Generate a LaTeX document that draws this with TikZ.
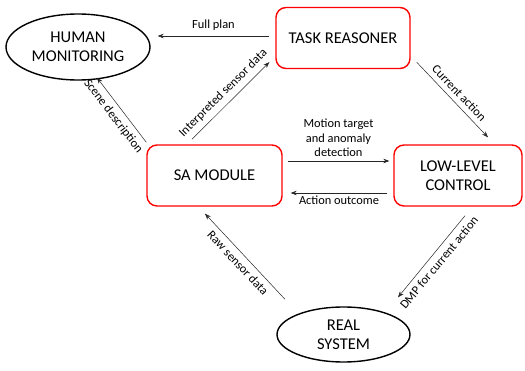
\documentclass[tikz,border=0pt]{standalone}
\usepackage{fontspec}
\setmainfont{Carlito}
\usetikzlibrary{shapes.geometric,arrows.meta}
\begin{document}
\begin{tikzpicture}[x=1pt,y=1pt,
  redbox/.style={draw=red,line width=1.4pt,rounded corners=10pt,fill=white,font=\fontsize{16.5}{19}\selectfont,align=center,inner sep=0pt},
  oval/.style={draw=black,line width=1.4pt,ellipse,font=\fontsize{16.5}{19}\selectfont,align=center,inner sep=0pt},
  arr/.style={-{Stealth[length=6pt,width=4.5pt]},line width=0.5pt,draw=black!85},
  lab/.style={font=\fontsize{12.4}{14.5}\selectfont,align=center,inner sep=3pt},
  slab/.style={lab,sloped,inner sep=5pt}]
\useasboundingbox (0,0) rectangle (525,370);
\node[oval,minimum width=144,minimum height=66] (HM) at (78,323) {HUMAN\\MONITORING};
\node[redbox,minimum width=134,minimum height=61] (TR) at (343,332) {TASK REASONER};
\node[redbox,minimum width=135,minimum height=61] (SA) at (214.5,194.5) {SA MODULE};
\node[redbox,minimum width=128,minimum height=61] (LLC) at (458,194.5) {LOW-LEVEL\\CONTROL};
\node[oval,minimum width=133,minimum height=55] (RS) at (343.5,35.5) {REAL\\SYSTEM};

\draw[arr] ([shift={(-6,2)}]TR.west) -- node[lab,above=2pt] {Full plan} ([shift={(7,11)}]HM.east);
\draw[arr] ([shift={(-22.5,5)}]SA.north) -- node[slab,above] {Interpreted sensor data} ([shift={(-6,7)}]TR.south west);
\draw[arr] ([shift={(0,2)}]SA.north west) -- node[slab,below] {Scene description} ([shift={(19,3)}]HM.south);
\draw[arr] ([shift={(6,7)}]TR.south east) -- node[slab,above] {Current action} ([shift={(30,7)}]LLC.north);
\draw[arr] ([shift={(5,14.5)}]SA.east) -- node[lab,above=1pt] {Motion target\\and anomaly\\detection} ([shift={(-4,14.5)}]LLC.west);
\draw[arr] ([shift={(-6,-17.5)}]LLC.west) -- node[lab,below] {Action outcome} ([shift={(8,-17.5)}]SA.east);
\draw[arr] ([shift={(-58.5,7)}]RS.north) -- node[slab,below] {Raw sensor data} ([shift={(-9.5,-7)}]SA.south);
\draw[arr] ([shift={(7,-9)}]LLC.south) -- node[slab,below] {DMP for current action} ([shift={(54.5,9)}]RS.north);
\end{tikzpicture}
\end{document}
